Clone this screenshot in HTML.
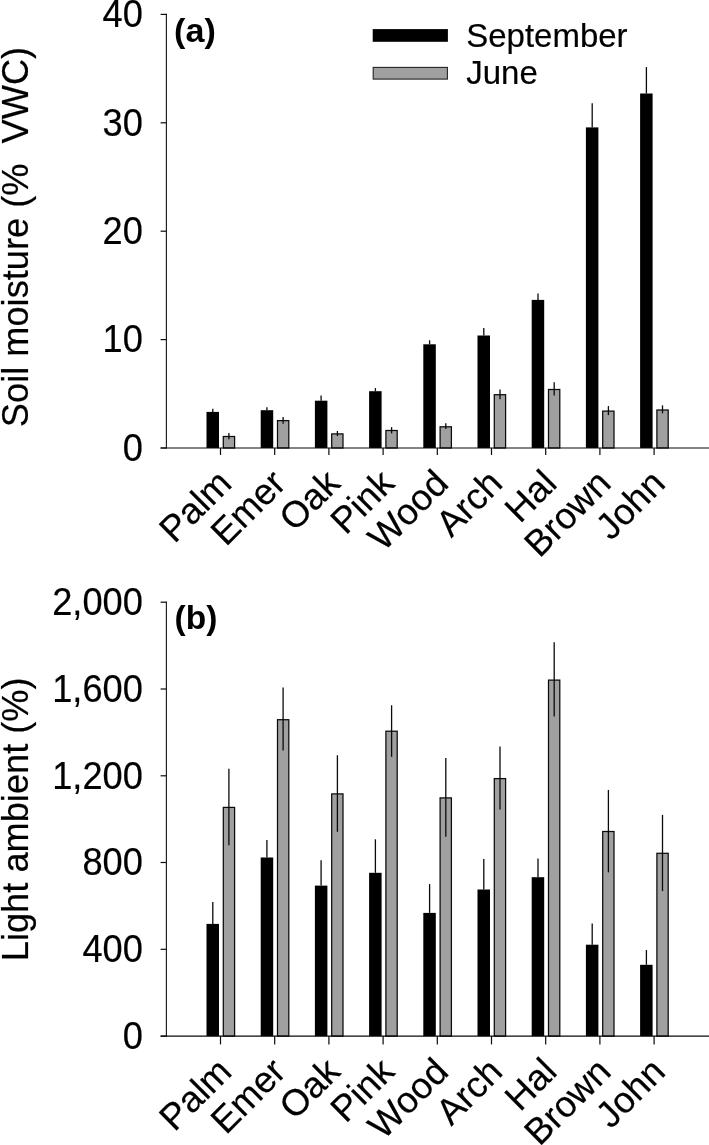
<!DOCTYPE html>
<html><head><meta charset="utf-8"><title>Figure</title>
<style>html,body{margin:0;padding:0;background:#fff}svg{display:block}text{font-family:"Liberation Sans",sans-serif;fill:#000;stroke:#000;stroke-width:0.2px}</style>
</head><body>
<svg width="709" height="1145" viewBox="0 0 709 1145">
<rect width="709" height="1145" fill="#fff"/>
<rect x="206.5" y="411.9" width="12.5" height="36.1" fill="#000"/>
<line x1="212.8" x2="212.8" y1="408.7" y2="411.9" stroke="#0a0a0a" stroke-width="1.3"/>
<rect x="223.3" y="436.5" width="11.3" height="11.5" fill="#a0a0a0" stroke="#0a0a0a" stroke-width="1.25"/>
<line x1="228.9" x2="228.9" y1="432.9" y2="439.2" stroke="#0a0a0a" stroke-width="1.3"/>
<rect x="260.7" y="410.2" width="12.5" height="37.8" fill="#000"/>
<line x1="266.9" x2="266.9" y1="407.2" y2="410.2" stroke="#0a0a0a" stroke-width="1.3"/>
<rect x="277.5" y="420.6" width="11.3" height="27.4" fill="#a0a0a0" stroke="#0a0a0a" stroke-width="1.25"/>
<line x1="283.1" x2="283.1" y1="417.0" y2="423.7" stroke="#0a0a0a" stroke-width="1.3"/>
<rect x="314.9" y="400.7" width="12.5" height="47.3" fill="#000"/>
<line x1="321.1" x2="321.1" y1="395.5" y2="400.7" stroke="#0a0a0a" stroke-width="1.3"/>
<rect x="331.7" y="433.9" width="11.3" height="14.1" fill="#a0a0a0" stroke="#0a0a0a" stroke-width="1.25"/>
<line x1="337.4" x2="337.4" y1="431.0" y2="436.1" stroke="#0a0a0a" stroke-width="1.3"/>
<rect x="369.1" y="391.2" width="12.5" height="56.8" fill="#000"/>
<line x1="375.4" x2="375.4" y1="388.1" y2="391.2" stroke="#0a0a0a" stroke-width="1.3"/>
<rect x="385.9" y="430.5" width="11.3" height="17.5" fill="#a0a0a0" stroke="#0a0a0a" stroke-width="1.25"/>
<line x1="391.6" x2="391.6" y1="427.1" y2="433.4" stroke="#0a0a0a" stroke-width="1.3"/>
<rect x="423.3" y="344.3" width="12.5" height="103.7" fill="#000"/>
<line x1="429.6" x2="429.6" y1="340.3" y2="344.3" stroke="#0a0a0a" stroke-width="1.3"/>
<rect x="440.1" y="426.8" width="11.3" height="21.2" fill="#a0a0a0" stroke="#0a0a0a" stroke-width="1.25"/>
<line x1="445.8" x2="445.8" y1="423.3" y2="429.0" stroke="#0a0a0a" stroke-width="1.3"/>
<rect x="477.5" y="335.5" width="12.5" height="112.5" fill="#000"/>
<line x1="483.8" x2="483.8" y1="328.1" y2="335.5" stroke="#0a0a0a" stroke-width="1.3"/>
<rect x="494.3" y="394.7" width="11.3" height="53.3" fill="#a0a0a0" stroke="#0a0a0a" stroke-width="1.25"/>
<line x1="500.0" x2="500.0" y1="389.5" y2="399.2" stroke="#0a0a0a" stroke-width="1.3"/>
<rect x="531.7" y="299.9" width="12.5" height="148.1" fill="#000"/>
<line x1="538.0" x2="538.0" y1="293.5" y2="299.9" stroke="#0a0a0a" stroke-width="1.3"/>
<rect x="548.5" y="389.5" width="11.3" height="58.5" fill="#a0a0a0" stroke="#0a0a0a" stroke-width="1.25"/>
<line x1="554.2" x2="554.2" y1="382.3" y2="395.6" stroke="#0a0a0a" stroke-width="1.3"/>
<rect x="585.9" y="127.4" width="12.5" height="320.6" fill="#000"/>
<line x1="592.2" x2="592.2" y1="103.2" y2="127.4" stroke="#0a0a0a" stroke-width="1.3"/>
<rect x="602.7" y="411.1" width="11.3" height="36.9" fill="#a0a0a0" stroke="#0a0a0a" stroke-width="1.25"/>
<line x1="608.4" x2="608.4" y1="406.1" y2="415.1" stroke="#0a0a0a" stroke-width="1.3"/>
<rect x="640.1" y="93.5" width="12.5" height="354.5" fill="#000"/>
<line x1="646.4" x2="646.4" y1="67.1" y2="93.5" stroke="#0a0a0a" stroke-width="1.3"/>
<rect x="656.9" y="410.0" width="11.3" height="38.0" fill="#a0a0a0" stroke="#0a0a0a" stroke-width="1.25"/>
<line x1="662.5" x2="662.5" y1="405.4" y2="413.3" stroke="#0a0a0a" stroke-width="1.3"/>
<line x1="166.4" x2="166.4" y1="13.8" y2="448.6" stroke="#1c1c1c" stroke-width="1.15"/>
<line x1="160.6" x2="709" y1="448" y2="448" stroke="#0a0a0a" stroke-width="1.1"/>
<line x1="160.6" x2="166.4" y1="448.0" y2="448.0" stroke="#0a0a0a" stroke-width="1.2"/>
<text transform="translate(142.8,460.8) scale(0.953,1)" text-anchor="end" font-size="38.0">0</text>
<line x1="160.6" x2="166.4" y1="339.6" y2="339.6" stroke="#0a0a0a" stroke-width="1.2"/>
<text transform="translate(142.8,352.4) scale(0.953,1)" text-anchor="end" font-size="38.0">10</text>
<line x1="160.6" x2="166.4" y1="231.2" y2="231.2" stroke="#0a0a0a" stroke-width="1.2"/>
<text transform="translate(142.8,244.0) scale(0.953,1)" text-anchor="end" font-size="38.0">20</text>
<line x1="160.6" x2="166.4" y1="122.8" y2="122.8" stroke="#0a0a0a" stroke-width="1.2"/>
<text transform="translate(142.8,135.6) scale(0.953,1)" text-anchor="end" font-size="38.0">30</text>
<line x1="160.6" x2="166.4" y1="14.4" y2="14.4" stroke="#0a0a0a" stroke-width="1.2"/>
<text transform="translate(142.8,27.2) scale(0.953,1)" text-anchor="end" font-size="38.0">40</text>
<line x1="220.5" x2="220.5" y1="448" y2="455.0" stroke="#0a0a0a" stroke-width="1.2"/>
<text transform="translate(233.5,485.4) rotate(-45)" text-anchor="end" font-size="36.6">Palm</text>
<line x1="274.7" x2="274.7" y1="448" y2="455.0" stroke="#0a0a0a" stroke-width="1.2"/>
<text transform="translate(287.7,485.4) rotate(-45)" text-anchor="end" font-size="36.6">Emer</text>
<line x1="328.9" x2="328.9" y1="448" y2="455.0" stroke="#0a0a0a" stroke-width="1.2"/>
<text transform="translate(341.9,485.4) rotate(-45)" text-anchor="end" font-size="36.6">Oak</text>
<line x1="383.1" x2="383.1" y1="448" y2="455.0" stroke="#0a0a0a" stroke-width="1.2"/>
<text transform="translate(396.1,485.4) rotate(-45)" text-anchor="end" font-size="36.6">Pink</text>
<line x1="437.3" x2="437.3" y1="448" y2="455.0" stroke="#0a0a0a" stroke-width="1.2"/>
<text transform="translate(450.3,485.4) rotate(-45)" text-anchor="end" font-size="36.6">Wood</text>
<line x1="491.5" x2="491.5" y1="448" y2="455.0" stroke="#0a0a0a" stroke-width="1.2"/>
<text transform="translate(504.5,485.4) rotate(-45)" text-anchor="end" font-size="36.6">Arch</text>
<line x1="545.7" x2="545.7" y1="448" y2="455.0" stroke="#0a0a0a" stroke-width="1.2"/>
<text transform="translate(558.7,485.4) rotate(-45)" text-anchor="end" font-size="36.6">Hal</text>
<line x1="599.9" x2="599.9" y1="448" y2="455.0" stroke="#0a0a0a" stroke-width="1.2"/>
<text transform="translate(612.9,485.4) rotate(-45)" text-anchor="end" font-size="36.6">Brown</text>
<line x1="654.1" x2="654.1" y1="448" y2="455.0" stroke="#0a0a0a" stroke-width="1.2"/>
<text transform="translate(667.1,485.4) rotate(-45)" text-anchor="end" font-size="36.6">John</text>
<rect x="206.5" y="923.9" width="12.5" height="112.2" fill="#000"/>
<line x1="212.8" x2="212.8" y1="901.9" y2="923.9" stroke="#0a0a0a" stroke-width="1.3"/>
<rect x="223.3" y="807.4" width="11.3" height="228.7" fill="#a0a0a0" stroke="#0a0a0a" stroke-width="1.25"/>
<line x1="228.9" x2="228.9" y1="768.7" y2="845.3" stroke="#0a0a0a" stroke-width="1.3"/>
<rect x="260.7" y="857.5" width="12.5" height="178.6" fill="#000"/>
<line x1="266.9" x2="266.9" y1="839.9" y2="857.5" stroke="#0a0a0a" stroke-width="1.3"/>
<rect x="277.5" y="719.7" width="11.3" height="316.4" fill="#a0a0a0" stroke="#0a0a0a" stroke-width="1.25"/>
<line x1="283.1" x2="283.1" y1="687.4" y2="750.6" stroke="#0a0a0a" stroke-width="1.3"/>
<rect x="314.9" y="885.6" width="12.5" height="150.5" fill="#000"/>
<line x1="321.1" x2="321.1" y1="860.2" y2="885.6" stroke="#0a0a0a" stroke-width="1.3"/>
<rect x="331.7" y="793.9" width="11.3" height="242.2" fill="#a0a0a0" stroke="#0a0a0a" stroke-width="1.25"/>
<line x1="337.4" x2="337.4" y1="755.2" y2="831.8" stroke="#0a0a0a" stroke-width="1.3"/>
<rect x="369.1" y="872.8" width="12.5" height="163.3" fill="#000"/>
<line x1="375.4" x2="375.4" y1="839.3" y2="872.8" stroke="#0a0a0a" stroke-width="1.3"/>
<rect x="385.9" y="731.2" width="11.3" height="304.9" fill="#a0a0a0" stroke="#0a0a0a" stroke-width="1.25"/>
<line x1="391.6" x2="391.6" y1="705.3" y2="756.8" stroke="#0a0a0a" stroke-width="1.3"/>
<rect x="423.3" y="912.9" width="12.5" height="123.2" fill="#000"/>
<line x1="429.6" x2="429.6" y1="884.1" y2="912.9" stroke="#0a0a0a" stroke-width="1.3"/>
<rect x="440.1" y="797.9" width="11.3" height="238.2" fill="#a0a0a0" stroke="#0a0a0a" stroke-width="1.25"/>
<line x1="445.8" x2="445.8" y1="758.1" y2="836.7" stroke="#0a0a0a" stroke-width="1.3"/>
<rect x="477.5" y="889.5" width="12.5" height="146.6" fill="#000"/>
<line x1="483.8" x2="483.8" y1="859.0" y2="889.5" stroke="#0a0a0a" stroke-width="1.3"/>
<rect x="494.3" y="778.6" width="11.3" height="257.5" fill="#a0a0a0" stroke="#0a0a0a" stroke-width="1.25"/>
<line x1="500.0" x2="500.0" y1="746.6" y2="809.6" stroke="#0a0a0a" stroke-width="1.3"/>
<rect x="531.7" y="877.2" width="12.5" height="158.9" fill="#000"/>
<line x1="538.0" x2="538.0" y1="858.4" y2="877.2" stroke="#0a0a0a" stroke-width="1.3"/>
<rect x="548.5" y="680.1" width="11.3" height="356.0" fill="#a0a0a0" stroke="#0a0a0a" stroke-width="1.25"/>
<line x1="554.2" x2="554.2" y1="642.3" y2="716.5" stroke="#0a0a0a" stroke-width="1.3"/>
<rect x="585.9" y="944.7" width="12.5" height="91.4" fill="#000"/>
<line x1="592.2" x2="592.2" y1="923.4" y2="944.7" stroke="#0a0a0a" stroke-width="1.3"/>
<rect x="602.7" y="831.5" width="11.3" height="204.6" fill="#a0a0a0" stroke="#0a0a0a" stroke-width="1.25"/>
<line x1="608.4" x2="608.4" y1="790.0" y2="872.4" stroke="#0a0a0a" stroke-width="1.3"/>
<rect x="640.1" y="964.8" width="12.5" height="71.3" fill="#000"/>
<line x1="646.4" x2="646.4" y1="950.0" y2="964.8" stroke="#0a0a0a" stroke-width="1.3"/>
<rect x="656.9" y="853.3" width="11.3" height="182.8" fill="#a0a0a0" stroke="#0a0a0a" stroke-width="1.25"/>
<line x1="662.5" x2="662.5" y1="814.9" y2="891.1" stroke="#0a0a0a" stroke-width="1.3"/>
<line x1="166.4" x2="166.4" y1="601.6" y2="1036.7" stroke="#1c1c1c" stroke-width="1.15"/>
<line x1="160.6" x2="709" y1="1036.1" y2="1036.1" stroke="#0a0a0a" stroke-width="1.1"/>
<line x1="160.6" x2="166.4" y1="1036.1" y2="1036.1" stroke="#0a0a0a" stroke-width="1.2"/>
<text transform="translate(142.8,1048.9) scale(0.953,1)" text-anchor="end" font-size="38.0">0</text>
<line x1="160.6" x2="166.4" y1="949.3" y2="949.3" stroke="#0a0a0a" stroke-width="1.2"/>
<text transform="translate(142.8,962.1) scale(0.953,1)" text-anchor="end" font-size="38.0">400</text>
<line x1="160.6" x2="166.4" y1="862.5" y2="862.5" stroke="#0a0a0a" stroke-width="1.2"/>
<text transform="translate(142.8,875.3) scale(0.953,1)" text-anchor="end" font-size="38.0">800</text>
<line x1="160.6" x2="166.4" y1="775.8" y2="775.8" stroke="#0a0a0a" stroke-width="1.2"/>
<text transform="translate(142.8,788.6) scale(0.953,1)" text-anchor="end" font-size="38.0">1,200</text>
<line x1="160.6" x2="166.4" y1="689.0" y2="689.0" stroke="#0a0a0a" stroke-width="1.2"/>
<text transform="translate(142.8,701.8) scale(0.953,1)" text-anchor="end" font-size="38.0">1,600</text>
<line x1="160.6" x2="166.4" y1="602.2" y2="602.2" stroke="#0a0a0a" stroke-width="1.2"/>
<text transform="translate(142.8,615.0) scale(0.953,1)" text-anchor="end" font-size="38.0">2,000</text>
<line x1="220.5" x2="220.5" y1="1036.1" y2="1044.4" stroke="#0a0a0a" stroke-width="1.2"/>
<text transform="translate(233.5,1073.6) rotate(-45)" text-anchor="end" font-size="36.6">Palm</text>
<line x1="274.7" x2="274.7" y1="1036.1" y2="1044.4" stroke="#0a0a0a" stroke-width="1.2"/>
<text transform="translate(287.7,1073.6) rotate(-45)" text-anchor="end" font-size="36.6">Emer</text>
<line x1="328.9" x2="328.9" y1="1036.1" y2="1044.4" stroke="#0a0a0a" stroke-width="1.2"/>
<text transform="translate(341.9,1073.6) rotate(-45)" text-anchor="end" font-size="36.6">Oak</text>
<line x1="383.1" x2="383.1" y1="1036.1" y2="1044.4" stroke="#0a0a0a" stroke-width="1.2"/>
<text transform="translate(396.1,1073.6) rotate(-45)" text-anchor="end" font-size="36.6">Pink</text>
<line x1="437.3" x2="437.3" y1="1036.1" y2="1044.4" stroke="#0a0a0a" stroke-width="1.2"/>
<text transform="translate(450.3,1073.6) rotate(-45)" text-anchor="end" font-size="36.6">Wood</text>
<line x1="491.5" x2="491.5" y1="1036.1" y2="1044.4" stroke="#0a0a0a" stroke-width="1.2"/>
<text transform="translate(504.5,1073.6) rotate(-45)" text-anchor="end" font-size="36.6">Arch</text>
<line x1="545.7" x2="545.7" y1="1036.1" y2="1044.4" stroke="#0a0a0a" stroke-width="1.2"/>
<text transform="translate(558.7,1073.6) rotate(-45)" text-anchor="end" font-size="36.6">Hal</text>
<line x1="599.9" x2="599.9" y1="1036.1" y2="1044.4" stroke="#0a0a0a" stroke-width="1.2"/>
<text transform="translate(612.9,1073.6) rotate(-45)" text-anchor="end" font-size="36.6">Brown</text>
<line x1="654.1" x2="654.1" y1="1036.1" y2="1044.4" stroke="#0a0a0a" stroke-width="1.2"/>
<text transform="translate(667.1,1073.6) rotate(-45)" text-anchor="end" font-size="36.6">John</text>
<rect x="372.7" y="29.1" width="75.2" height="12.7" fill="#000"/>
<rect x="373.2" y="67.4" width="74.2" height="11.7" fill="#a0a0a0" stroke="#222" stroke-width="1.1"/>
<text transform="translate(466.2,46.7) scale(0.997,1)" font-size="33.1">September</text>
<text transform="translate(466.2,83.6) scale(0.997,1)" font-size="33.1">June</text>
<text transform="translate(174.1,41.5) scale(1.02,1)" font-size="33.5" font-weight="bold" style="stroke:none">(a)</text>
<text transform="translate(174.6,629.4) scale(1.0,1)" font-size="33.5" font-weight="bold" style="stroke:none">(b)</text>
<text transform="translate(27.8,237) rotate(-90) scale(0.998,1)" text-anchor="middle" font-size="36.3">Soil moisture (%&#160; VWC)</text>
<text transform="translate(27.8,819.3) rotate(-90) scale(0.998,1)" text-anchor="middle" font-size="36.3">Light ambient (%)</text>
</svg>
</body></html>
